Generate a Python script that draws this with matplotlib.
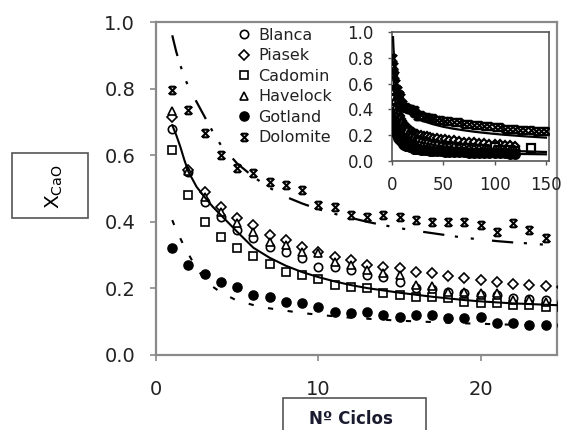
import numpy as np
import matplotlib
matplotlib.use("Agg")
import matplotlib.pyplot as plt
from matplotlib.path import Path
from matplotlib.patches import Rectangle

# ---------------- data ----------------
cycles = list(range(1, 26))
blanca = [0.68, 0.55, 0.46, 0.415, 0.375, 0.35, 0.325, 0.31, 0.29, 0.264, 0.264, 0.255,
          0.24, 0.234, 0.219, 0.20, 0.198, 0.19, 0.185, 0.18, 0.18, 0.17, 0.168, 0.165, 0.162]
piasek = [0.715, 0.556, 0.49, 0.445, 0.41, 0.39, 0.36, 0.345, 0.324, 0.309, 0.294, 0.285,
          0.27, 0.264, 0.261, 0.249, 0.246, 0.237, 0.231, 0.225, 0.219, 0.213, 0.21, 0.207, 0.204]
cadomin = [0.616, 0.48, 0.40, 0.354, 0.321, 0.297, 0.273, 0.249, 0.24, 0.228, 0.21, 0.204,
           0.201, 0.186, 0.18, 0.174, 0.174, 0.171, 0.159, 0.156, 0.156, 0.15, 0.15, 0.144, 0.144]
havelock = [0.733, 0.553, 0.475, 0.43, 0.396, 0.37, 0.34, 0.33, 0.309, 0.305, 0.279, 0.27,
            0.255, 0.246, 0.24, 0.21, 0.207, 0.19, 0.19, 0.186, 0.186, 0.165, 0.165, 0.16, 0.16]
gotland = [0.321, 0.27, 0.243, 0.219, 0.204, 0.18, 0.174, 0.159, 0.156, 0.144, 0.129, 0.126,
           0.129, 0.12, 0.114, 0.12, 0.12, 0.111, 0.111, 0.114, 0.096, 0.096, 0.09, 0.09, 0.09]
dolomite = [0.796, 0.736, 0.667, 0.601, 0.562, 0.547, 0.52, 0.511, 0.495, 0.45, 0.444, 0.42,
            0.414, 0.42, 0.414, 0.405, 0.40, 0.40, 0.40, 0.39, 0.37, 0.396, 0.375, 0.351, 0.351]

# inset: later cycles (up to 150)
nan = np.nan
ext_cycles = [28, 31, 34, 37, 40, 44, 48, 52, 56, 60, 65, 70, 75, 80, 85, 90, 95, 100,
              105, 110, 115, 120, 125, 130, 135, 140, 145, 150]
blanca_ext = [0.155, 0.15, 0.146, 0.142, 0.138, 0.133, 0.128, 0.124, 0.12, 0.117, 0.113, 0.11,
              0.107, 0.104, 0.10, 0.098, 0.096, 0.094, 0.092, 0.09, 0.088, 0.087,
              nan, nan, nan, nan, nan, nan]
piasek_ext = [0.20, 0.195, 0.19, 0.185, 0.18, 0.175, 0.17, 0.168, 0.165, 0.16, 0.155, 0.15,
              0.148, 0.145, 0.14, 0.138, 0.135, 0.13, 0.128, 0.125, 0.123, 0.12,
              nan, nan, nan, nan, nan, nan]
cadomin_ext = [0.14, 0.136, 0.132, 0.128, 0.125, 0.12, 0.116, 0.113, 0.11, 0.107, 0.104, 0.10,
               0.098, 0.095, 0.093, 0.09, 0.088, 0.11, 0.085, 0.083, 0.082, 0.08,
               nan, nan, 0.10, nan, nan, nan]
havelock_ext = [0.155, 0.15, 0.145, 0.14, 0.135, 0.13, 0.125, 0.12, 0.118, 0.115, 0.11, 0.107,
                0.104, 0.10, 0.098, 0.096, 0.094, 0.092, 0.09, 0.088, 0.086, 0.085,
                nan, nan, nan, nan, nan, nan]
gotland_ext = [0.088, 0.085, 0.083, 0.08, 0.078, 0.076, 0.074, 0.072, 0.07, 0.069, 0.067, 0.066,
               0.065, 0.064, 0.063, 0.062, 0.061, 0.06, 0.06, 0.059, 0.058, 0.058,
               nan, nan, nan, nan, nan, nan]
dolomite_ext = [0.36, 0.34, 0.34, 0.33, 0.33, 0.32, 0.32, 0.31, 0.31, 0.30, 0.30, 0.29,
                0.29, 0.28, 0.28, 0.27, 0.27, 0.26, 0.26, 0.25, 0.25, 0.25,
                0.24, 0.24, 0.24, 0.23, 0.23, 0.23]

# fitted curves
fit_cycles = [1, 1.25, 1.5, 1.75, 2, 2.5, 3, 3.5, 4, 5, 6, 7, 8, 9, 10, 11, 12, 13, 14, 15,
              16, 17, 18, 19, 20, 21, 22, 23, 24, 25]
fit_solid = [0.69, 0.66, 0.625, 0.585, 0.55, 0.505, 0.474, 0.445, 0.42, 0.37, 0.322, 0.292,
             0.268, 0.249, 0.234, 0.221, 0.21, 0.201, 0.194, 0.187, 0.181, 0.175, 0.17, 0.165,
             0.161, 0.158, 0.155, 0.153, 0.151, 0.149]
fit_gotland = [0.405, 0.375, 0.35, 0.325, 0.303, 0.26, 0.228, 0.205, 0.188, 0.163, 0.15, 0.14,
               0.133, 0.126, 0.121, 0.116, 0.112, 0.109, 0.106, 0.103, 0.101, 0.099, 0.097,
               0.095, 0.094, 0.092, 0.091, 0.09, 0.089, 0.088]
fit_dolomite = [0.96, 0.91, 0.87, 0.835, 0.805, 0.76, 0.715, 0.67, 0.63, 0.575, 0.535, 0.502,
                0.475, 0.455, 0.438, 0.424, 0.412, 0.40, 0.39, 0.381, 0.373, 0.366, 0.359,
                0.352, 0.347, 0.342, 0.338, 0.335, 0.331, 0.328]
fit_ext_cycles = [30, 40, 50, 60, 70, 80, 90, 100, 110, 120, 130, 140, 150]
fit_solid_ext = [0.14, 0.125, 0.113, 0.104, 0.097, 0.092, 0.087, 0.083, 0.08, 0.077, 0.075, 0.072, 0.07]
fit_gotland_ext = [0.083, 0.076, 0.071, 0.067, 0.064, 0.062, 0.06, 0.058, 0.056, 0.055, 0.054, 0.053, 0.052]
fit_dolomite_ext = [0.31, 0.285, 0.265, 0.25, 0.238, 0.227, 0.218, 0.21, 0.203, 0.197, 0.191, 0.186, 0.181]

labels = ["Blanca", "Piasek", "Cadomin", "Havelock", "Gotland", "Dolomite"]
main_yticks = [0.0, 0.2, 0.4, 0.6, 0.8, 1.0]
main_xticks = [0, 10, 20]
inset_xticks = [0, 50, 100, 150]

# ---------------- styles ----------------
xbar = Path([(-1, -1), (1, 1), (-1, 1), (1, -1), (-0.7, 1), (0.7, 1), (-0.7, -1), (0.7, -1)],
            [Path.MOVETO, Path.LINETO, Path.MOVETO, Path.LINETO,
             Path.MOVETO, Path.LINETO, Path.MOVETO, Path.LINETO])
styles = [
    dict(marker="o", ms=6.0, mfc="white", mec="black", mew=1.2),
    dict(marker="D", ms=4.6, mfc="white", mec="black", mew=1.2),
    dict(marker="s", ms=5.8, mfc="white", mec="black", mew=1.2),
    dict(marker="^", ms=6.2, mfc="white", mec="black", mew=1.2),
    dict(marker="o", ms=6.6, mfc="black", mec="black", mew=1.0),
    dict(marker=xbar, ms=5.5, mfc="none", mec="black", mew=1.5),
]
dd_style = (0, (9.6, 4.8, 1.4, 5.8, 1.4, 8.2))
dash_style = (0, (2.5, 7.0))
spine_grey = "#8a8a8a"
txt = "#222222"

plt.rcParams["font.family"] = ["DejaVu Sans"]
fig = plt.figure(figsize=(5.61, 4.30), dpi=100)
fig.patch.set_facecolor("white")

ax = fig.add_axes([156 / 561, 1 - 355 / 430, 401 / 561, 333 / 430])
series = [blanca, piasek, cadomin, havelock, gotland, dolomite]
handles = []
for vals, lab, st in zip(series, labels, styles):
    h, = ax.plot(cycles, vals, linestyle="none", label=lab, zorder=3, **st)
    handles.append(h)
ax.plot(fit_cycles, fit_solid, color="black", lw=1.5, zorder=4)
ax.plot(fit_cycles, fit_gotland, color="black", lw=1.5, linestyle=dash_style, zorder=4)
ax.plot(fit_cycles, fit_dolomite, color="black", lw=1.6, linestyle=dd_style, zorder=4)

ax.set_xlim(0, 24.7)
ax.set_ylim(0, 1.0)
ax.set_xticks(main_xticks)
ax.set_yticks(main_yticks)
ax.set_yticklabels([f"{v:.1f}" for v in main_yticks])
for s in ax.spines.values():
    s.set_color(spine_grey)
    s.set_linewidth(1.6)
ax.tick_params(axis="both", direction="out", length=4, width=1.2, color=spine_grey,
               labelsize=14, labelcolor=txt)
ax.tick_params(axis="y", pad=11)
ax.tick_params(axis="x", pad=14)

leg = ax.legend(handles=handles, loc="upper left", bbox_to_anchor=(0.199, 0.982),
                frameon=False, fontsize=11.5, handlelength=1.0, handletextpad=0.4,
                labelspacing=0.34, borderpad=0.0, borderaxespad=0.0, numpoints=1)
for t in leg.get_texts():
    t.set_color(txt)

ax.set_xlabel("Nº Ciclos", fontsize=12, fontweight="bold", color="#1b1b30")
ax.xaxis.set_label_coords(0.486, -0.165)
ax.set_ylabel(r"$\mathrm{X_{CaO}}$", fontsize=14.5, color="black")
ax.yaxis.set_label_coords(-0.227, 0.505)

fig.patches.append(Rectangle((12 / 561, 1 - 218 / 430), 76 / 561, 65 / 430,
                             transform=fig.transFigure, fill=False,
                             edgecolor="#555555", lw=1.2))
fig.patches.append(Rectangle((283 / 561, -0.02), 143 / 561, 0.02 + 32 / 430,
                             transform=fig.transFigure, fill=False,
                             edgecolor="#555555", lw=1.2))

# ---------------- inset ----------------
ins = fig.add_axes([392 / 561, 1 - 161 / 430, 157 / 561, 129 / 430])
ins.set_facecolor("white")
ext_series = [blanca_ext, piasek_ext, cadomin_ext, havelock_ext, gotland_ext, dolomite_ext]
for vals, ext, st in zip(series, ext_series, styles):
    st2 = dict(st)
    st2["ms"] = st["ms"] * 0.95
    st2["mew"] = 1.6
    ins.plot(cycles + ext_cycles, list(vals) + list(ext), linestyle="none", zorder=3, **st2)
ins.plot(fit_cycles + fit_ext_cycles, fit_solid + fit_solid_ext, color="black", lw=1.6, zorder=4)
ins.plot(fit_cycles + fit_ext_cycles, fit_gotland + fit_gotland_ext, color="black", lw=1.6, zorder=4)
ins.plot(fit_cycles + fit_ext_cycles, fit_dolomite + fit_dolomite_ext, color="black", lw=1.6, zorder=4)
ins.set_xlim(0, 153)
ins.set_ylim(0, 1.0)
ins.set_xticks(inset_xticks)
ins.set_yticks(main_yticks)
ins.set_yticklabels([f"{v:.1f}" for v in main_yticks])
for s in ins.spines.values():
    s.set_color("#555555")
    s.set_linewidth(1.2)
ins.tick_params(axis="both", direction="out", length=3, width=1.0, color="#555555",
                labelsize=12, labelcolor=txt)
ins.tick_params(axis="y", pad=10)
ins.tick_params(axis="x", pad=8)

fig.savefig("out.png", dpi=100, facecolor="white")
